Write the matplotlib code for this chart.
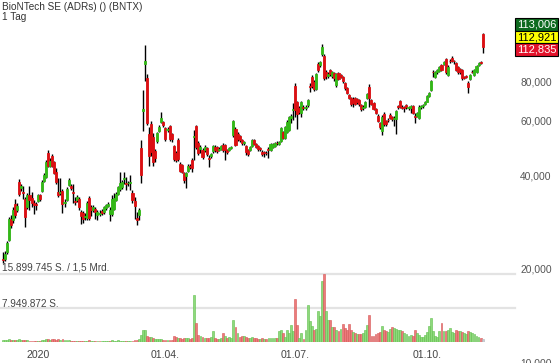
import numpy as np
import pandas as pd
import matplotlib
matplotlib.use('Agg')
import matplotlib.pyplot as plt
from matplotlib.patches import Rectangle

plt.rcParams['font.family'] = ['Liberation Sans', 'DejaVu Sans']

W, H = 560, 363

# trading calendar (NYSE holidays removed)
holidays = ['2019-12-25', '2020-01-01', '2020-01-20', '2020-02-17', '2020-04-10',
            '2020-05-25', '2020-07-03', '2020-09-07']
all_days = pd.bdate_range('2019-12-06', '2020-11-09')
days = all_days[~all_days.isin(pd.to_datetime(holidays))]

opens = [
    21.6, 21.5, 22.6, 24.8, 29.0, 28.7, 32.2, 31.0, 38.0, 36.4,
    35.3, 33.4, 31.6, 34.5, 33.8, 32.5, 32.2, 33.0, 34.4, 35.5,
    38.3, 39.4, 47.0, 42.8, 46.0, 44.0, 41.0, 35.2, 35.0, 35.5,
    32.6, 33.3, 37.2, 36.8, 35.3, 33.1, 33.3, 33.5, 30.5, 30.2,
    29.3, 29.2, 33.8, 31.6, 30.8, 31.1, 29.8, 30.1, 30.7, 30.4,
    31.4, 31.8, 30.0, 30.0, 31.2, 33.3, 34.8, 36.0,
    36.6, 38.8, 37.6, 37.6, 37.7, 35.0, 33.1, 29.2, 29.8, 48.7,
    64.0, 90.5, 81.8, 54.1, 58.3, 53.0, 47.7, 51.5, 55.5, 59.0,
    59.0, 56.4, 55.7, 57.4, 54.0, 49.5, 47.0, 51.6, 43.4, 43.0,
    40.6, 39.7, 41.3, 42.8, 44.7, 53.0, 57.4, 50.8, 48.5, 48.1,
    48.1, 48.8, 45.3, 46.0, 47.8, 49.2, 49.2, 48.2, 48.6, 49.9,
    49.9, 48.0, 48.2, 48.8, 53.6, 56.3, 54.0, 53.3, 51.8,
    50.5, 49.5, 48.0, 48.0, 49.7, 51.6, 50.3, 49.5, 48.8, 47.3,
    47.4, 47.2, 48.6, 48.2, 49.3, 49.5, 50.8, 50.4, 51.3, 55.0,
    52.6, 55.0, 55.7, 61.0, 64.5, 76.9, 68.6, 65.7, 63.2, 65.9,
    65.5, 66.8, 77.0, 82.4, 79.4, 75.6, 90.9, 90.3, 97.4, 96.0,
    85.5, 83.0, 86.8, 83.3, 85.0, 77.7, 84.8, 83.6, 82.4, 79.0,
    76.0, 72.0, 70.5, 70.3, 70.5, 70.0,
    69.5, 67.0, 65.7, 66.0, 70.8, 76.5, 69.5, 67.8, 65.0, 61.8,
    58.5, 55.5, 62.7, 59.6, 60.0, 62.3, 61.5, 60.5, 60.6, 66.3,
    69.0, 66.2, 66.0, 66.8, 65.4, 65.7, 66.6, 61.6, 62.0, 61.0,
    66.0, 66.3, 67.3, 68.7, 71.6, 74.9, 85.6, 82.7, 85.2, 86.0,
    89.7, 90.5, 94.0, 83.5, 92.8, 95.0, 92.8, 91.5, 89.0, 87.5,
    87.0, 82.5, 82.9, 79.0, 81.2, 85.8, 83.8, 85.6, 90.0, 91.8,
    113.0,
]
highs = [
    22.6, 22.8, 24.5, 29.3, 29.8, 31.5, 33.5, 32.5, 38.8, 37.5,
    37.0, 34.0, 35.0, 37.0, 35.2, 33.3, 32.8, 34.8, 34.8, 38.5,
    40.5, 44.6, 48.0, 45.5, 46.8, 44.5, 42.0, 39.0, 39.2, 36.0,
    33.5, 36.5, 39.0, 37.3, 37.5, 34.0, 34.5, 34.0, 31.0, 30.6,
    30.2, 33.0, 34.2, 32.0, 32.0, 31.5, 31.0, 30.8, 31.2, 31.8,
    32.4, 32.7, 31.5, 34.5, 35.0, 35.3, 37.0, 41.0,
    38.5, 41.0, 39.5, 38.3, 40.0, 35.8, 34.0, 30.4, 31.4, 51.7,
    74.9, 104.0, 84.0, 57.0, 59.5, 54.5, 48.5, 55.0, 57.8, 63.6,
    59.5, 57.0, 56.8, 58.0, 54.5, 50.0, 47.8, 52.5, 44.0, 43.5,
    41.0, 41.0, 43.5, 43.4, 45.3, 55.7, 58.0, 51.5, 49.8, 48.8,
    49.8, 49.3, 46.5, 47.0, 50.0, 49.8, 49.6, 49.0, 50.0, 50.5,
    50.3, 48.5, 49.2, 49.6, 60.2, 57.0, 54.8, 53.8, 52.3,
    51.5, 50.0, 48.5, 49.6, 52.3, 52.0, 50.8, 50.0, 49.3, 48.0,
    47.9, 47.6, 49.0, 50.6, 50.8, 51.0, 51.3, 51.3, 57.0, 55.5,
    57.5, 59.8, 62.0, 62.5, 68.0, 78.6, 69.0, 66.5, 69.0, 66.8,
    67.0, 70.2, 79.0, 83.5, 80.5, 85.0, 92.0, 93.0, 105.5, 97.5,
    86.5, 85.2, 87.5, 86.0, 85.8, 85.0, 85.5, 84.3, 83.0, 79.5,
    76.6, 72.8, 71.2, 71.0, 71.2, 70.6,
    70.2, 67.5, 66.8, 69.0, 73.5, 78.0, 70.0, 68.5, 65.6, 62.5,
    59.0, 62.2, 63.5, 60.2, 60.8, 63.0, 62.0, 61.8, 64.8, 67.0,
    69.8, 66.8, 66.5, 67.3, 66.5, 67.0, 67.2, 63.0, 63.6, 67.0,
    67.0, 67.6, 69.0, 72.0, 73.6, 80.5, 86.5, 86.0, 87.4, 89.4,
    90.4, 92.8, 95.0, 89.8, 94.0, 96.0, 93.5, 92.2, 89.6, 88.0,
    87.6, 83.3, 83.5, 79.8, 84.2, 86.5, 87.4, 90.0, 92.3, 92.6,
    114.0,
]
lows = [
    20.9, 21.2, 22.3, 24.5, 27.0, 28.0, 29.2, 30.5, 34.3, 35.6,
    33.6, 27.3, 31.2, 31.0, 31.5, 30.0, 31.0, 32.8, 33.0, 35.2,
    37.9, 39.0, 42.5, 42.3, 42.3, 40.2, 37.5, 34.0, 34.5, 30.2,
    31.5, 33.0, 36.8, 35.8, 32.5, 32.0, 32.8, 31.0, 27.8, 28.0,
    28.6, 28.8, 28.7, 29.5, 30.4, 29.0, 28.8, 29.6, 29.8, 30.0,
    31.0, 31.5, 28.5, 29.6, 30.8, 33.0, 34.4, 35.5,
    36.2, 37.5, 35.8, 37.0, 35.8, 32.6, 28.9, 27.6, 28.6, 37.8,
    55.2, 80.0, 57.8, 42.8, 46.0, 42.6, 44.0, 50.5, 54.8, 58.5,
    57.0, 51.5, 55.0, 51.5, 51.0, 44.3, 44.0, 44.5, 40.8, 40.5,
    37.8, 36.3, 40.8, 41.8, 41.0, 44.7, 48.5, 46.5, 47.0, 45.0,
    47.5, 46.0, 42.4, 45.5, 47.2, 47.5, 47.0, 47.6, 48.2, 47.5,
    44.7, 46.8, 47.8, 48.3, 53.0, 49.5, 51.3, 51.0, 50.0,
    49.8, 46.5, 46.0, 47.6, 49.2, 49.8, 48.8, 47.6, 47.8, 46.0,
    45.8, 46.4, 45.5, 47.8, 48.8, 49.0, 50.0, 50.0, 51.0, 52.0,
    52.0, 54.5, 55.2, 58.5, 60.0, 61.5, 56.0, 62.5, 61.4, 64.8,
    64.8, 66.0, 74.0, 76.0, 74.5, 75.0, 85.5, 89.0, 96.5, 80.5,
    81.0, 82.0, 83.0, 82.0, 80.0, 76.5, 80.5, 81.5, 79.0, 75.0,
    72.5, 70.0, 66.5, 66.0, 66.8, 67.5,
    66.5, 64.3, 64.8, 65.5, 70.0, 66.0, 66.8, 64.5, 62.5, 59.0,
    56.2, 53.7, 57.5, 57.5, 59.0, 60.5, 59.5, 57.5, 54.0, 65.0,
    65.5, 65.0, 63.5, 65.3, 64.8, 63.0, 62.5, 58.5, 61.2, 60.5,
    65.3, 65.8, 66.8, 68.3, 71.0, 74.3, 82.5, 81.5, 84.5, 85.5,
    86.0, 89.8, 84.5, 82.8, 91.5, 91.8, 91.0, 86.3, 84.0, 84.0,
    80.5, 81.2, 81.8, 73.1, 80.5, 84.6, 83.2, 85.0, 89.4, 90.5,
    98.5,
]
closes = [
    21.4, 22.4, 24.2, 29.0, 27.7, 31.0, 29.8, 31.8, 34.7, 36.9,
    35.0, 29.3, 34.5, 33.3, 32.5, 32.1, 32.0, 34.5, 33.5, 38.0,
    40.0, 44.1, 42.8, 44.2, 42.8, 40.6, 37.9, 34.6, 35.3, 32.4,
    32.8, 36.0, 38.6, 36.3, 35.0, 32.9, 34.0, 31.6, 29.6, 29.0,
    29.6, 32.6, 29.2, 30.8, 31.6, 30.5, 30.5, 30.2, 30.3, 31.5,
    32.0, 32.4, 30.8, 33.5, 33.8, 34.8, 36.6, 37.8,
    38.0, 39.2, 37.3, 37.8, 38.0, 33.3, 31.8, 28.6, 31.0, 40.0,
    65.3, 92.5, 58.9, 46.1, 47.5, 43.9, 45.4, 54.4, 57.0, 61.0,
    58.0, 52.2, 56.2, 52.2, 52.0, 45.0, 44.7, 45.0, 41.3, 41.0,
    38.6, 40.6, 42.8, 42.5, 42.2, 53.5, 49.2, 47.0, 49.0, 45.7,
    49.2, 46.8, 45.0, 46.6, 49.5, 48.2, 47.6, 48.6, 49.6, 48.1,
    48.2, 47.5, 48.8, 49.2, 59.5, 50.0, 52.0, 51.6, 50.6,
    50.9, 47.3, 46.8, 49.2, 51.6, 50.3, 49.3, 48.3, 48.5, 46.7,
    47.0, 46.9, 48.0, 50.2, 50.4, 50.6, 50.5, 50.9, 56.4, 52.7,
    57.0, 59.0, 61.2, 62.0, 65.0, 64.6, 62.9, 63.7, 68.5, 65.5,
    66.2, 69.5, 76.6, 77.1, 75.6, 84.3, 86.8, 91.9, 103.0, 81.8,
    83.0, 84.5, 84.3, 85.2, 82.0, 84.3, 81.3, 82.5, 79.8, 76.0,
    73.4, 70.8, 67.6, 68.2, 67.6, 68.5,
    67.6, 65.0, 66.0, 68.5, 72.7, 70.5, 67.6, 65.3, 63.2, 59.7,
    57.0, 61.5, 58.4, 58.1, 59.8, 61.0, 60.3, 61.0, 64.1, 66.0,
    66.0, 65.7, 65.8, 66.0, 66.0, 66.5, 63.2, 61.3, 63.0, 66.2,
    66.3, 67.0, 68.4, 71.6, 73.1, 79.8, 85.2, 85.2, 86.8, 88.7,
    86.8, 92.0, 85.5, 89.0, 92.5, 92.5, 92.5, 87.0, 85.2, 85.5,
    82.0, 82.0, 82.5, 76.8, 83.5, 85.4, 86.8, 89.3, 91.5, 91.3,
    103.0,
]
# volume in million shares
volumes = [
    0.4, 0.5, 0.4, 0.6, 0.4, 0.5, 0.5, 0.4, 0.6, 0.4,
    0.4, 0.5, 0.4, 0.3, 0.3, 0.3, 0.3, 0.3, 0.3, 0.4,
    0.5, 0.7, 0.7, 0.5, 0.6, 0.7, 0.5, 0.8, 0.5, 0.6,
    0.4, 0.4, 0.4, 0.3, 0.3, 0.3, 0.2, 0.3, 0.3, 0.3,
    0.2, 0.3, 0.4, 0.3, 0.2, 0.2, 0.2, 0.2, 0.2, 0.2,
    0.2, 0.2, 0.3, 0.4, 0.3, 0.3, 0.4, 0.3,
    0.3, 0.3, 0.3, 0.2, 0.2, 0.3, 0.4, 0.5, 0.6, 1.7,
    2.9, 2.9, 1.5, 1.2, 1.1, 1.0, 0.8, 0.7, 0.6, 0.6,
    0.5, 0.5, 0.4, 0.5, 0.5, 1.5, 1.2, 0.9, 0.9, 0.8,
    0.9, 0.9, 1.0, 0.8, 0.9, 11.0, 4.4, 1.7, 1.3, 1.2,
    0.9, 1.0, 1.0, 1.2, 2.5, 1.0, 0.8, 0.8, 0.9, 2.0,
    1.5, 1.0, 1.2, 1.0, 5.2, 3.6, 2.0, 1.2, 1.5,
    1.5, 1.2, 1.0, 1.0, 1.2, 1.0, 0.9, 0.8, 0.8, 0.9,
    0.8, 0.8, 1.0, 1.0, 1.0, 0.9, 1.0, 2.5, 2.7, 2.0,
    1.2, 2.7, 2.2, 4.0, 2.5, 10.0, 3.9, 0.9, 2.1, 0.7,
    2.9, 8.7, 4.9, 3.7, 2.9, 3.0, 7.3, 6.1, 14.2, 15.9,
    7.3, 5.2, 5.2, 3.6, 3.6, 2.9, 2.6, 3.0, 4.1, 3.2,
    2.9, 4.1, 2.9, 2.3, 2.0, 1.8,
    1.8, 1.9, 2.1, 2.9, 4.0, 6.3, 1.5, 1.5, 1.8, 2.0,
    2.3, 3.7, 2.7, 2.5, 2.4, 3.1, 3.5, 3.3, 3.0, 2.8,
    2.8, 2.5, 2.1, 1.8, 1.5, 1.7, 1.5, 2.9, 2.0, 1.7,
    1.2, 1.2, 1.7, 2.3, 3.7, 5.7, 2.5, 1.5, 1.2, 2.5,
    4.4, 2.5, 2.5, 2.9, 3.3, 2.3, 2.1, 2.9, 2.5, 2.5,
    2.3, 2.1, 1.9, 2.5, 2.3, 2.1, 1.8, 1.3, 1.2, 1.0,
    0.7,
]

date_ticks = ['2020-01-02', '2020-04-01', '2020-07-01', '2020-10-01']
date_labels = ['2020', '01.04.', '01.07.', '01.10.']
price_ticks = [10, 20, 40, 60, 80]
price_labels = ['10,000', '20,000', '40,000', '60,000', '80,000']
quote_labels = ['113,006', '112,921', '112,835']
quote_colors = ['#0e6a1f', '#ffff00', '#e3122b']
quote_text_colors = ['white', 'black', 'white']
title = 'BioNTech SE (ADRs) () (BNTX)'
interval = '1 Tag'
vol_max_label = '15.899.745 S. / 1,5 Mrd.'
vol_half_label = '7.949.872 S.'

GREEN = '#33b817'
RED = '#dc0f12'


# pixel helpers (origin top-left)
def fx(px):
    return px / W


def fy(py):
    return 1 - py / H


o = np.array(opens)
h = np.array(highs)
l = np.array(lows)
c = np.array(closes)
v = np.array(volumes)
n = len(c)
x = np.arange(n)

fig = plt.figure(figsize=(W / 100, H / 100), dpi=100)

# candle index -> pixel: px = 2.7 + 2.06 * i
xlim = (-2.7 / 2.06, (515 - 2.7) / 2.06)

# price panel covers the whole height, log scale
ax = fig.add_axes([0, 0, fx(515), 1])
ax.patch.set_visible(False)
ax.set_yscale('log')
ax.set_ylim(20 * np.exp(-94 / 135.6), 20 * np.exp(269 / 135.6))
ax.set_xlim(*xlim)
cols = np.where(c >= o, GREEN, RED)
ax.vlines(x, l, h, color='black', lw=1.0, zorder=2)
ax.bar(x, np.abs(c - o), bottom=np.minimum(o, c), width=1.0, color=cols,
       edgecolor=cols, lw=0.6, zorder=3)
ax.yaxis.tick_right()
ax.set_yticks(price_ticks)
ax.set_yticklabels(price_labels)
ax.set_yticks([], minor=True)
ax.tick_params(axis='y', length=0, pad=3.8, labelsize=7.4, labelcolor='#555555')
ax.set_xticks([])
for s in ax.spines.values():
    s.set_visible(False)

# volume panel
vax = fig.add_axes([0, fy(342), fx(515), 68 / H], zorder=-1)
vax.set_xlim(*xlim)
vax.set_ylim(0, v.max())
prev = np.concatenate([[c[0]], c[:-1]])
vcols = list(np.where(c >= prev, '#8ed97c', '#ec7b7b'))
vedge = list(np.where(c >= prev, '#5fbf4b', '#d55555'))
vcols[-1] = '#c9cdd3'
vedge[-1] = '#b0b4ba'
vax.bar(x, v, width=0.9, color=vcols, edgecolor=vedge, lw=0.4)
for g in [v.max(), v.max() / 2]:
    vax.axhline(g, color='#e3e3e3', lw=1.6, clip_on=False, zorder=0)
idx = [days.get_loc(pd.Timestamp(d)) for d in date_ticks]
vax.set_xticks(idx)
vax.set_xticklabels(date_labels)
vax.tick_params(axis='x', length=0, pad=5.5, labelsize=7.6, labelcolor='#444444')
vax.set_yticks([])
for s in vax.spines.values():
    s.set_visible(False)

fig.text(fx(2), fy(268), vol_max_label, fontsize=7.2, color='#444444', va='center')
fig.text(fx(2), fy(304), vol_half_label, fontsize=7.2, color='#444444', va='center')

# header
fig.text(fx(2), fy(7), title, fontsize=7.2, color='#333333', va='center')
fig.text(fx(2), fy(17), interval, fontsize=7.2, color='#333333', va='center')

# quote boxes at the right
for k, (lab, fc, tc) in enumerate(zip(quote_labels, quote_colors, quote_text_colors)):
    top = 18 + k * 12.7
    fig.patches.append(Rectangle((fx(515), fy(top + 12.7)), fx(43), 12.7 / H,
                                 transform=fig.transFigure, facecolor=fc,
                                 edgecolor='black', lw=0.8))
    fig.text(fx(536.5), fy(top + 6.6), lab, fontsize=8, color=tc,
             ha='center', va='center')

fig.savefig('out.png', dpi=100)
